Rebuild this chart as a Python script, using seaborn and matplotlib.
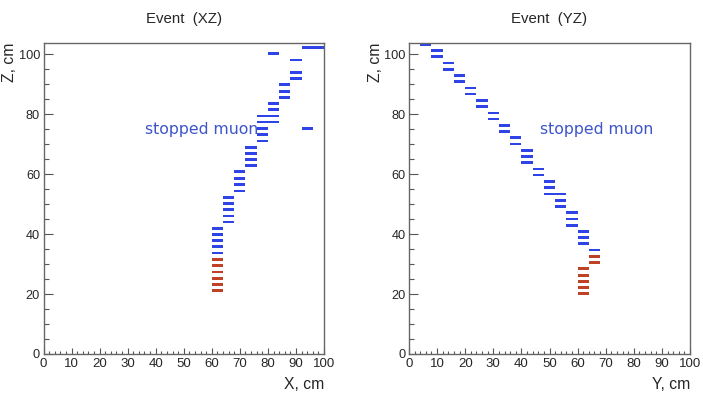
import numpy as np
import pandas as pd
import matplotlib
matplotlib.use("Agg")
import matplotlib.pyplot as plt
from matplotlib.ticker import MultipleLocator
import seaborn as sns

# ---------------- data (hits: z position, strip start, strip width) ----------
# XZ view
xz_z = [102.4, 102.4, 100.2, 98.1, 94.0, 91.9, 89.9, 87.7, 85.7, 83.7, 81.6,
        79.4, 79.4, 77.4, 77.4, 75.2, 75.2, 73.2, 71.1, 69.0, 66.9, 64.9, 62.8,
        60.8, 58.6, 56.6, 54.4, 52.3, 50.2, 48.2, 46.1, 44.1,
        42.0, 39.9, 37.9, 35.8, 33.7,
        31.6, 29.6, 27.4, 25.3, 23.3, 21.2]
xz_x = [92, 96, 80, 88, 88, 88, 84, 84, 84, 80, 80,
        76, 80, 76, 80, 76, 92, 76, 76, 72, 72, 72, 72,
        68, 68, 68, 68, 64, 64, 64, 64, 64,
        60, 60, 60, 60, 60,
        60, 60, 60, 60, 60, 60]
xz_kind = ["muon"] * 37 + ["stop"] * 6

# YZ view
yz_z = [103.3, 101.2, 99.2, 97.1, 95.0, 93.0, 90.9, 88.8, 86.8, 84.7, 82.6,
        80.4, 78.4, 76.3, 74.2, 72.2, 70.1, 68.0, 65.9, 63.8, 61.7, 59.7,
        57.6, 55.6, 53.4, 53.4, 51.3, 49.2, 47.2, 45.1, 43.0, 41.0, 38.9, 36.8,
        34.7,
        32.6, 30.6, 28.6, 26.3, 24.2, 22.2, 20.1]
yz_y = [4, 8, 8, 12, 12, 16, 16, 20, 20, 24, 24,
        28, 28, 32, 32, 36, 36, 40, 40, 40, 44, 44,
        48, 48, 48, 52, 52, 52, 56, 56, 56, 60, 60, 60,
        64,
        64, 64, 60, 60, 60, 60, 60]
yz_kind = ["muon"] * 35 + ["stop"] * 7

strip_width = 4.0
hit_thickness = 0.9

titles = ["Event  (XZ)", "Event  (YZ)"]
xlabels = ["X, cm", "Y, cm"]
ylabel = "Z, cm"
annotation = "stopped muon"

# ---------------- style ----------------
sns.set_theme(style="ticks")
plt.rcParams["font.family"] = ["Liberation Sans", "DejaVu Sans"]

palette = {"muon": "#2e44e6", "stop": "#bf4126"}
text_blue = "#3d55c9"

W, H = 703, 393
fig = plt.figure(figsize=(W / 100, H / 100), dpi=100)

ax_l = fig.add_axes([43.5 / W, 1 - 354 / H, 280.5 / W, 311 / H])
ax_r = fig.add_axes([409 / W, 1 - 354 / H, 281 / W, 311 / H])

views = [
    (ax_l, pd.DataFrame({"z": xz_z, "pos": xz_x, "kind": xz_kind}), (36.2, 75.0), 280.5),
    (ax_r, pd.DataFrame({"z": yz_z, "pos": yz_y, "kind": yz_kind}), (46.6, 75.0), 281.0),
]

for i, (ax, df, txt, wpx) in enumerate(views):
    for kind, sub in df.groupby("kind"):
        ax.barh(sub["z"], width=strip_width, left=sub["pos"], height=hit_thickness,
                color=palette[kind], linewidth=0, align="center")
    ax.set_xlim(0, 100)
    ax.set_ylim(0, 103.8)
    ax.xaxis.set_major_locator(MultipleLocator(10))
    ax.xaxis.set_minor_locator(MultipleLocator(2))
    ax.yaxis.set_major_locator(MultipleLocator(20))
    ax.yaxis.set_minor_locator(MultipleLocator(5))
    ax.tick_params(axis="both", which="both", direction="in", width=0.8,
                   color="#555555")
    ax.tick_params(axis="x", which="major", length=4, labelsize=9.5, pad=3)
    ax.tick_params(axis="x", which="minor", length=2)
    ax.tick_params(axis="y", which="major", length=6.5, labelsize=9.2, pad=2.5)
    ax.tick_params(axis="y", which="minor", length=3.6)
    for sp in ax.spines.values():
        sp.set_color("#666666")
        sp.set_linewidth(1.0)
    ax.set_title(titles[i], fontsize=10.8, pad=14.5)
    ax.set_xlabel(xlabels[i], fontsize=11.3, loc="right", labelpad=5)
    ax.set_ylabel(ylabel, fontsize=11.3, loc="top")
    ax.yaxis.set_label_coords(-26.0 / wpx, 1.0)
    ax.text(txt[0], txt[1], annotation, color=text_blue, fontsize=11.3,
            family="DejaVu Sans", ha="left", va="center")

fig.savefig("out.png", dpi=100)
